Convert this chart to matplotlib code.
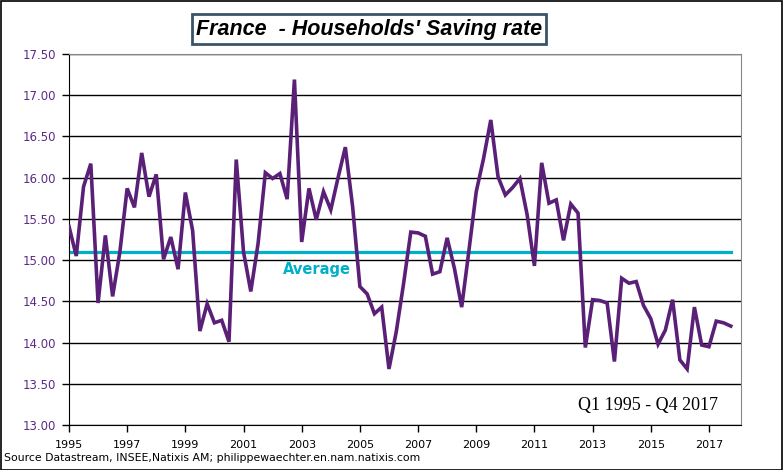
import numpy as np
import matplotlib
matplotlib.use("Agg")
import matplotlib.pyplot as plt
from matplotlib.patches import Rectangle

# quarterly household saving rate, Q1 1995 .. Q4 2017
saving_rate = [
    15.41, 15.05, 15.89, 16.17, 14.48, 15.30, 14.56, 15.10,  # 1995-1996
    15.87, 15.64, 16.30, 15.77, 16.04, 15.01, 15.28, 14.89,  # 1997-1998
    15.82, 15.36, 14.14, 14.47, 14.24, 14.27, 14.01, 16.22,  # 1999-2000
    15.10, 14.62, 15.20, 16.06, 15.99, 16.05, 15.74, 17.19,  # 2001-2002
    15.22, 15.87, 15.49, 15.83, 15.61, 16.00, 16.37, 15.65,  # 2003-2004
    14.68, 14.59, 14.35, 14.43, 13.68, 14.13, 14.71, 15.34,  # 2005-2006
    15.33, 15.29, 14.83, 14.86, 15.27, 14.90, 14.43, 15.12,  # 2007-2008
    15.83, 16.23, 16.70, 16.01, 15.79, 15.88, 15.99, 15.55,  # 2009-2010
    14.93, 16.18, 15.69, 15.73, 15.24, 15.68, 15.57, 13.94,  # 2011-2012
    14.52, 14.51, 14.48, 13.77, 14.78, 14.72, 14.74, 14.45,  # 2013-2014
    14.29, 13.98, 14.15, 14.52, 13.79, 13.68, 14.43, 13.97,  # 2015-2016
    13.95, 14.26, 14.24, 14.20,                              # 2017
]
start_year = 1995
average = 15.1
year_ticks = list(range(1995, 2018, 2))
rate_ticks = [13.0, 13.5, 14.0, 14.5, 15.0, 15.5, 16.0, 16.5, 17.0, 17.5]

purple = '#5a2078'
cyan = '#00b0c8'

x = start_year + np.arange(len(saving_rate)) * 0.25

fig = plt.figure(figsize=(7.83, 4.70), dpi=100)
ax = fig.add_axes([0.0881, 0.0957, 0.8582, 0.7894])

ax.plot(x, saving_rate, color=purple, lw=2.6, solid_joinstyle='miter', zorder=3)
ax.plot([x[0], x[-1]], [average, average], color=cyan, lw=2.3, zorder=2)
ax.text(2003.53, 14.89, 'Average', color=cyan, fontsize=10.5,
        fontweight='bold', ha='center', va='center')

ax.set_xlim(1995, 2018.1)
ax.set_ylim(13.0, 17.5)
ax.set_xticks(year_ticks)
ax.set_xticklabels([str(y) for y in year_ticks], fontsize=8)
ax.set_yticks(rate_ticks)
ax.set_yticklabels(['%.2f' % v for v in rate_ticks], fontsize=8.5, color='#5b2a86')
ax.yaxis.grid(True, color='black', lw=1)
ax.set_axisbelow(True)
ax.tick_params(axis='both', direction='out', length=5, width=1, color='black')
ax.tick_params(axis='y', pad=4)
ax.tick_params(axis='x', pad=6)
for side in ['left', 'bottom']:
    ax.spines[side].set_color('black')
for side in ['top', 'right']:
    ax.spines[side].set_color('#888888')

ax.text(0.966, 0.052, 'Q1 1995 - Q4 2017', transform=ax.transAxes,
        ha='right', va='center', fontsize=13, family='Liberation Serif')

fig.text(369 / 783, 1 - 29 / 470, "France  - Households' Saving rate",
         ha='center', va='center', fontsize=15.5, fontweight='bold',
         fontstyle='italic', family='Liberation Sans',
         bbox=dict(boxstyle='square,pad=0.2', fc='white', ec='#3b5366', lw=2))

fig.text(4 / 783, 1 - 458 / 470,
         'Source Datastream, INSEE,Natixis AM; philippewaechter.en.nam.natixis.com',
         ha='left', va='center', fontsize=7.8)

fig.patches.append(Rectangle((0.001, 0.001), 0.998, 0.997, transform=fig.transFigure,
                             fill=False, ec='black', lw=1.2))

fig.savefig('out.png', dpi=100)
